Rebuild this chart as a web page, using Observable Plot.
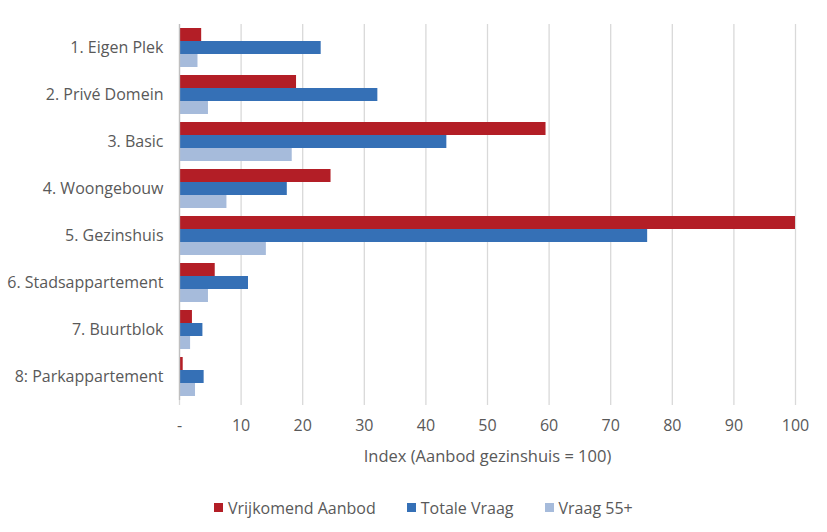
<!DOCTYPE html>
<html>
<head>
<meta charset="utf-8">
<script src="https://cdn.jsdelivr.net/npm/d3@7"></script>
<script src="https://cdn.jsdelivr.net/npm/@observablehq/plot@0.6"></script>
<style>
  body { margin: 0; background: #fff; font-family: "Open Sans", sans-serif; }
  #chart { width: 827px; }
  #chart svg [aria-label^="x-axis"] line,
  #chart svg [aria-label="x-axis tick"] path { stroke: #d9d9d9; stroke-width: 1.3px; }
  #chart svg [aria-label="x-axis label"] { font-size: 16.5px; }
  #legend { padding-left: 214px; margin-top: 11px; color: #595959; font-size: 16px; }
  #legend .lg-swatch { margin-right: 31px; }
  #legend .lg-swatch svg { margin-right: 5px; }
</style>
</head>
<body>
<div id="chart"></div>
<div id="legend"></div>
<script>
// Woningtypen (segmenten) en drie reeksen, geïndexeerd op aanbod gezinshuis = 100
const categories = [
  "1. Eigen Plek",
  "2. Privé Domein",
  "3. Basic",
  "4. Woongebouw",
  "5. Gezinshuis",
  "6. Stadsappartement",
  "7. Buurtblok",
  "8: Parkappartement"
];
const seriesNames = ["Vrijkomend Aanbod", "Totale Vraag", "Vraag 55+"];
const vrijkomendAanbod = [3.6, 19.0, 59.5, 24.6, 100, 5.8, 2.1, 0.6];
const totaleVraag      = [23.0, 32.2, 43.4, 17.5, 76.0, 11.2, 3.8, 4.0];
const vraag55          = [3.0, 4.7, 18.3, 7.7, 14.1, 4.7, 1.8, 2.6];
const xTicks = [0, 10, 20, 30, 40, 50, 60, 70, 80, 90, 100];
const seriesColors = ["#b31e26", "#3570b6", "#a6bbdb"];

const seriesValues = [vrijkomendAanbod, totaleVraag, vraag55];
const rows = categories.flatMap((category, i) =>
  seriesNames.map((series, s) => ({category, series, value: seriesValues[s][i]}))
);

const font = "'Open Sans', sans-serif";

const chart = Plot.plot({
  width: 827,
  height: 480,
  marginTop: 22,
  marginBottom: 79,
  marginLeft: 179,
  marginRight: 32,
  style: {fontFamily: font, fontSize: "16px", color: "#595959", background: "#fff"},
  facet: {data: rows, y: "category"},
  fy: {domain: categories, padding: 0, label: null, tickSize: 0, tickPadding: 16},
  y: {domain: seriesNames, axis: null, paddingInner: 0, paddingOuter: 0.3},
  x: {
    domain: [0, 100],
    ticks: xTicks,
    tickFormat: d => d === 0 ? "-" : d,
    tickSize: 5,
    tickPadding: 14,
    label: "Index (Aanbod gezinshuis = 100)",
    labelArrow: false,
    labelAnchor: "center",
    labelOffset: 61
  },
  color: {domain: seriesNames, range: seriesColors},
  marks: [
    Plot.ruleX(xTicks, {stroke: "#d9d9d9", strokeWidth: 1.3}),
    Plot.barX(rows, {x: "value", y: "series", fill: "series"}),
    Plot.ruleX([0], {stroke: "#bfbfbf", strokeWidth: 1.3})
  ]
});
document.getElementById("chart").append(chart);

const legend = Plot.legend({
  color: {domain: seriesNames, range: seriesColors},
  swatchSize: 9,
  className: "lg",
  style: {fontFamily: font, fontSize: "16px", color: "#595959"}
});
document.getElementById("legend").append(legend);
</script>
</body>
</html>
